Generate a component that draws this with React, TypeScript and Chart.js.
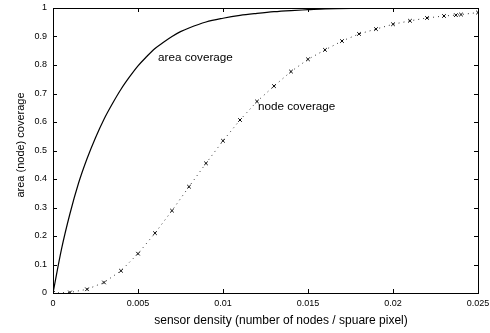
import React, { useEffect, useRef } from 'react';
import { Chart, registerables } from 'chart.js';

Chart.register(...registerables);

// ---- data ----
const densityArea = [
  0, 0.0005, 0.001, 0.0015, 0.002, 0.0025, 0.003, 0.0035, 0.004, 0.0045, 0.005,
  0.0055, 0.006, 0.0065, 0.007, 0.0075, 0.008, 0.009, 0.01, 0.011, 0.012, 0.013,
  0.014, 0.015, 0.016, 0.018, 0.02, 0.025,
];
const areaCoverage = [
  0, 0.154, 0.279, 0.385, 0.471, 0.545, 0.61, 0.665, 0.715, 0.758, 0.797,
  0.829, 0.858, 0.88, 0.9, 0.917, 0.93, 0.951, 0.964, 0.974, 0.981, 0.987,
  0.991, 0.994, 0.997, 0.999, 1.0, 1.0,
];

const densityNode = [
  0, 0.001, 0.002, 0.003, 0.004, 0.005, 0.006, 0.007, 0.008, 0.009, 0.01,
  0.011, 0.012, 0.013, 0.014, 0.015, 0.016, 0.017, 0.018, 0.019, 0.02,
  0.021, 0.022, 0.023, 0.0237, 0.024, 0.025,
];
const nodeCoverage = [
  0, 0.002, 0.013, 0.037, 0.078, 0.138, 0.21, 0.289, 0.373, 0.455, 0.534,
  0.607, 0.672, 0.726, 0.777, 0.82, 0.853, 0.884, 0.909, 0.926, 0.943,
  0.955, 0.965, 0.972, 0.975, 0.977, 0.984,
];

const xTickValues = [0, 0.005, 0.01, 0.015, 0.02, 0.025];
const xTickLabels = ['0', '0.005', '0.01', '0.015', '0.02', '0.025'];
const yTickValues = [0, 0.1, 0.2, 0.3, 0.4, 0.5, 0.6, 0.7, 0.8, 0.9, 1];
const yTickLabels = ['0', '0.1', '0.2', '0.3', '0.4', '0.5', '0.6', '0.7', '0.8', '0.9', '1'];

const xTitle = 'sensor density (number of nodes / spuare pixel)';
const yTitle = 'area (node) coverage';
const areaLabel = 'area coverage';
const nodeLabel = 'node coverage';
// label anchor points in data coordinates
const areaLabelX = 0.00618;
const areaLabelY = 0.825;
const nodeLabelX = 0.01206;
const nodeLabelY = 0.653;

const FONT = '"Liberation Sans", Arial, Helvetica, sans-serif';

const framePlugin = {
  id: 'frameAndLabels',
  afterDraw(chart: any) {
    const ctx = chart.ctx;
    const { left, right, top, bottom } = chart.chartArea;
    const xs = chart.scales.x;
    const ys = chart.scales.y;
    ctx.save();
    ctx.strokeStyle = '#000';
    ctx.lineWidth = 1;
    ctx.strokeRect(left + 0.5, top + 0.5, right - left, bottom - top);
    const tl = 4;
    ctx.beginPath();
    xs.ticks.forEach((t: any) => {
      const px = Math.round(xs.getPixelForValue(t.value)) + 0.5;
      ctx.moveTo(px, bottom);
      ctx.lineTo(px, bottom - tl);
      ctx.moveTo(px, top);
      ctx.lineTo(px, top + tl);
    });
    ys.ticks.forEach((t: any) => {
      const py = Math.round(ys.getPixelForValue(t.value)) + 0.5;
      ctx.moveTo(left, py);
      ctx.lineTo(left + tl, py);
      ctx.moveTo(right, py);
      ctx.lineTo(right - tl, py);
    });
    ctx.stroke();

    ctx.fillStyle = '#000';
    ctx.textBaseline = 'middle';
    ctx.textAlign = 'left';
    ctx.font = '11.7px ' + FONT;
    ctx.fillText(areaLabel, xs.getPixelForValue(areaLabelX), ys.getPixelForValue(areaLabelY));
    ctx.fillText(nodeLabel, xs.getPixelForValue(nodeLabelX), ys.getPixelForValue(nodeLabelY));

    ctx.textAlign = 'center';
    ctx.font = '12px ' + FONT;
    ctx.fillText(xTitle, (left + right) / 2 + 15.5, chart.height - 12.5);

    ctx.font = '11px ' + FONT;
    ctx.translate(21, (top + bottom) / 2 - 5.5);
    ctx.rotate(-Math.PI / 2);
    ctx.fillText(yTitle, 0, 0);
    ctx.restore();
  },
};

export default function App() {
  const ref = useRef<HTMLCanvasElement | null>(null);

  useEffect(() => {
    if (!ref.current) return;
    const chart = new Chart(ref.current, {
      type: 'scatter',
      data: {
        datasets: [
          {
            label: areaLabel,
            data: densityArea.map((x, i) => ({ x, y: areaCoverage[i] })),
            showLine: true,
            borderColor: '#000',
            borderWidth: 1.2,
            pointRadius: 0,
            cubicInterpolationMode: 'monotone',
          },
          {
            label: nodeLabel,
            data: densityNode.map((x, i) => ({ x, y: nodeCoverage[i] })),
            showLine: true,
            borderColor: '#333',
            borderWidth: 1,
            borderDash: [1, 4],
            pointStyle: 'crossRot',
            pointRadius: 2.5,
            pointBorderColor: '#000',
            pointBackgroundColor: '#000',
            pointBorderWidth: 1,
          },
        ],
      },
      options: {
        responsive: false,
        animation: false,
        layout: { padding: { top: 8, right: 12, bottom: 0, left: 0 } },
        plugins: {
          legend: { display: false },
          tooltip: { enabled: false },
        },
        scales: {
          x: {
            type: 'linear',
            min: 0,
            max: 0.025,
            afterBuildTicks: (s: any) => {
              s.ticks = xTickValues.map((v) => ({ value: v }));
            },
            afterFit: (s: any) => {
              s.height = 40;
              s.paddingLeft = 0;
              s.paddingRight = 0;
            },
            grid: { display: false, drawTicks: false },
            border: { display: false },
            ticks: {
              autoSkip: false,
              maxRotation: 0,
              padding: 5,
              color: '#000',
              font: { family: FONT, size: 9 },
              callback: (_v: any, i: number) => xTickLabels[i],
            },
          },
          y: {
            type: 'linear',
            min: 0,
            max: 1,
            afterBuildTicks: (s: any) => {
              s.ticks = yTickValues.map((v) => ({ value: v }));
            },
            afterFit: (s: any) => {
              s.width = 53;
              s.paddingTop = 0;
              s.paddingBottom = 0;
            },
            grid: { display: false, drawTicks: false },
            border: { display: false },
            ticks: {
              autoSkip: false,
              padding: 6,
              color: '#000',
              font: { family: FONT, size: 9 },
              callback: (_v: any, i: number) => yTickLabels[i],
            },
          },
        },
      },
      plugins: [framePlugin],
    } as any);
    return () => chart.destroy();
  }, []);

  return (
    <div style={{ position: 'absolute', left: 0, top: 0, width: 490, height: 333, background: '#fff' }}>
      <canvas ref={ref} width={490} height={333} style={{ display: 'block' }} />
    </div>
  );
}
